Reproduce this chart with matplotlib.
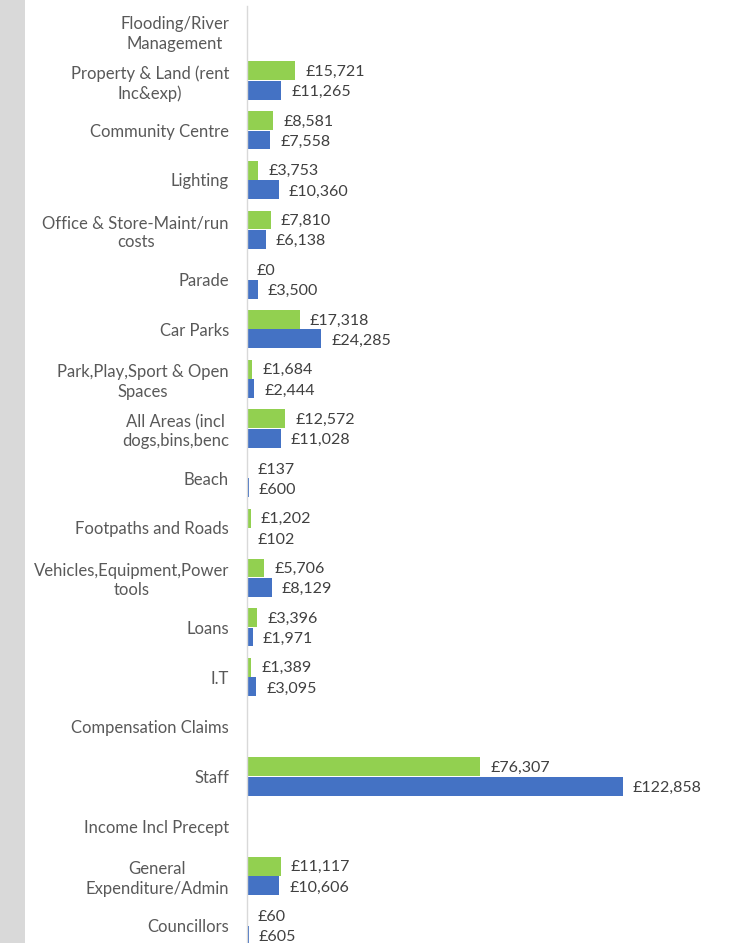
import numpy as np
import matplotlib
matplotlib.use("Agg")
import matplotlib.pyplot as plt
from matplotlib.patches import Rectangle

categories = ["Flooding/River\nManagement", "Property & Land (rent\nInc&exp)", "Community Centre",
              "Lighting", "Office & Store-Maint/run\ncosts", "Parade", "Car Parks",
              "Park,Play,Sport & Open\nSpaces", "All Areas (incl\ndogs,bins,benc", "Beach",
              "Footpaths and Roads", "Vehicles,Equipment,Power\ntools", "Loans", "I.T",
              "Compensation Claims", "Staff", "Income Incl Precept", "General\nExpenditure/Admin",
              "Councillors"]
nan = np.nan
green_vals = [nan, 15721, 8581, 3753, 7810, 0, 17318, 1684, 12572, 137, 1202, 5706, 3396, 1389,
              nan, 76307, nan, 11117, 60]
blue_vals = [nan, 11265, 7558, 10360, 6138, 3500, 24285, 2444, 11028, 600, 102, 8129, 1971, 3095,
             nan, 122858, nan, 10606, 605]

plt.rcParams['font.family'] = ['Lato', 'DejaVu Sans']

W, H = 738, 943
fig = plt.figure(figsize=(W / 100, H / 100), dpi=100)
fig.patches.append(Rectangle((0, 0), 25 / W, 1, transform=fig.transFigure,
                             facecolor='#d9d9d9', edgecolor='none', zorder=0))

left = 247 / W
xmax = 140000
right_px = 247 + xmax * 0.00306
top_px = 6
ax = fig.add_axes([left, 0, (right_px - 247) / W, (H - top_px) / H])

n = len(categories)
y = np.arange(n)
off = 0.195
h = 0.38
green = np.array(green_vals, dtype=float)
blue = np.array(blue_vals, dtype=float)
ax.barh(y - off, np.nan_to_num(green), height=h, color='#92D050', zorder=2)
ax.barh(y + off, np.nan_to_num(blue), height=h, color='#4472C4', zorder=2)

lab_fs = 11.5
for yi, v in zip(y - off, green):
    if not np.isnan(v):
        ax.annotate(f"£{v:,.0f}", (v, yi), xytext=(10, -1), textcoords='offset pixels',
                    va='center', ha='left', fontsize=lab_fs, color='#404040')
for yi, v in zip(y + off, blue):
    if not np.isnan(v):
        ax.annotate(f"£{v:,.0f}", (v, yi), xytext=(10, -2), textcoords='offset pixels',
                    va='center', ha='left', fontsize=lab_fs, color='#404040')

ax.set_xlim(0, xmax)
bottom_idx = (H - 31) / 49.7
ax.set_ylim(bottom_idx, -0.5)
ax.set_yticks(y)
ax.set_yticklabels(categories, fontsize=12, color='#595959')
for t in ax.get_yticklabels():
    t.set_multialignment('center')
    t.set_linespacing(1.25)
ax.tick_params(axis='y', length=0, pad=13)
ax.set_xticks([])
for s in ['top', 'right', 'bottom']:
    ax.spines[s].set_visible(False)
ax.spines['left'].set_color('#d9d9d9')
ax.spines['left'].set_linewidth(1.0)
ax.set_facecolor('none')

fig.savefig('out.png', dpi=100)
